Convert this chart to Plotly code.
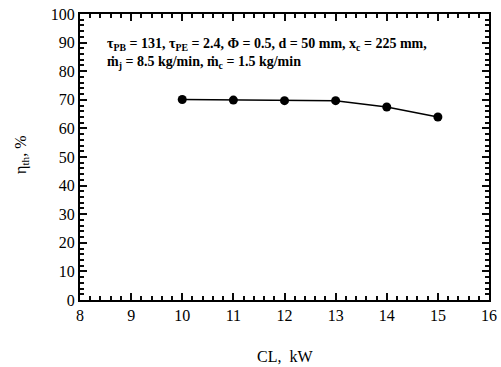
import plotly.graph_objects as go

# Cooling load (kW) and thermal efficiency (%)
cl_kw = [10, 11, 12, 13, 14, 15]
eta_th = [70.1, 69.9, 69.7, 69.7, 67.5, 64.0]

x_range = [8, 16]
y_range = [0, 100]

FONT = "Liberation Serif, Times New Roman, serif"
TICKFONT = dict(family=FONT, size=16, color="black")
TICK_COLOR = "#0a0a0a"

fig = go.Figure()
fig.add_trace(go.Scatter(
    x=cl_kw, y=eta_th, mode="lines+markers",
    line=dict(color="black", width=1.5),
    marker=dict(color="black", size=9),
    showlegend=False,
))

tick_style = dict(
    automargin=False,
    showgrid=False, zeroline=False,
    showline=True, linecolor="black", linewidth=2, mirror="allticks",
    ticks="inside", ticklen=7, tickwidth=2, tickcolor=TICK_COLOR,
    tickfont=TICKFONT,
)

fig.update_xaxes(
    range=x_range, tick0=8, dtick=1,
    minor=dict(dtick=0.2, ticks="inside", ticklen=4, tickwidth=1.5, tickcolor=TICK_COLOR),
    **tick_style,
)
fig.update_yaxes(
    range=y_range, tick0=0, dtick=10,
    minor=dict(dtick=2, ticks="inside", ticklen=4, tickwidth=1.5, tickcolor=TICK_COLOR),
    **tick_style,
)

# axis titles
fig.add_annotation(
    xref="paper", yref="paper", x=0.501, y=-0.199, xanchor="center", yanchor="middle",
    showarrow=False, text="CL,\u00a0 kW",
    font=dict(family=FONT, size=16, color="black"),
)
fig.add_annotation(
    xref="paper", yref="paper", x=-0.142, y=0.507, xanchor="center", yanchor="middle",
    showarrow=False, textangle=-90, text="η<sub>th</sub>, %",
    font=dict(family=FONT, size=16, color="black"),
)

# operating conditions
fig.add_annotation(
    xref="paper", yref="paper", x=0.06, y=0.895, xanchor="left", yanchor="middle",
    showarrow=False, align="left",
    text="<b>τ<sub>PB</sub> = 131, τ<sub>PE</sub> = 2.4, Φ = 0.5, d = 50 mm, x<sub>c</sub> = 225 mm,</b>",
    font=dict(family=FONT, size=14, color="black"),
)
fig.add_annotation(
    xref="paper", yref="paper", x=0.06, y=0.83, xanchor="left", yanchor="middle",
    showarrow=False, align="left",
    text="<b>ṁ<sub>j</sub> = 8.5 kg/min, ṁ<sub>c</sub> = 1.5 kg/min</b>",
    font=dict(family=FONT, size=14, color="black"),
)

fig.update_layout(
    template="none",
    width=501, height=367,
    margin=dict(l=80, r=12, t=14, b=67),
    paper_bgcolor="white", plot_bgcolor="white",
)

fig.write_html("out.html")
